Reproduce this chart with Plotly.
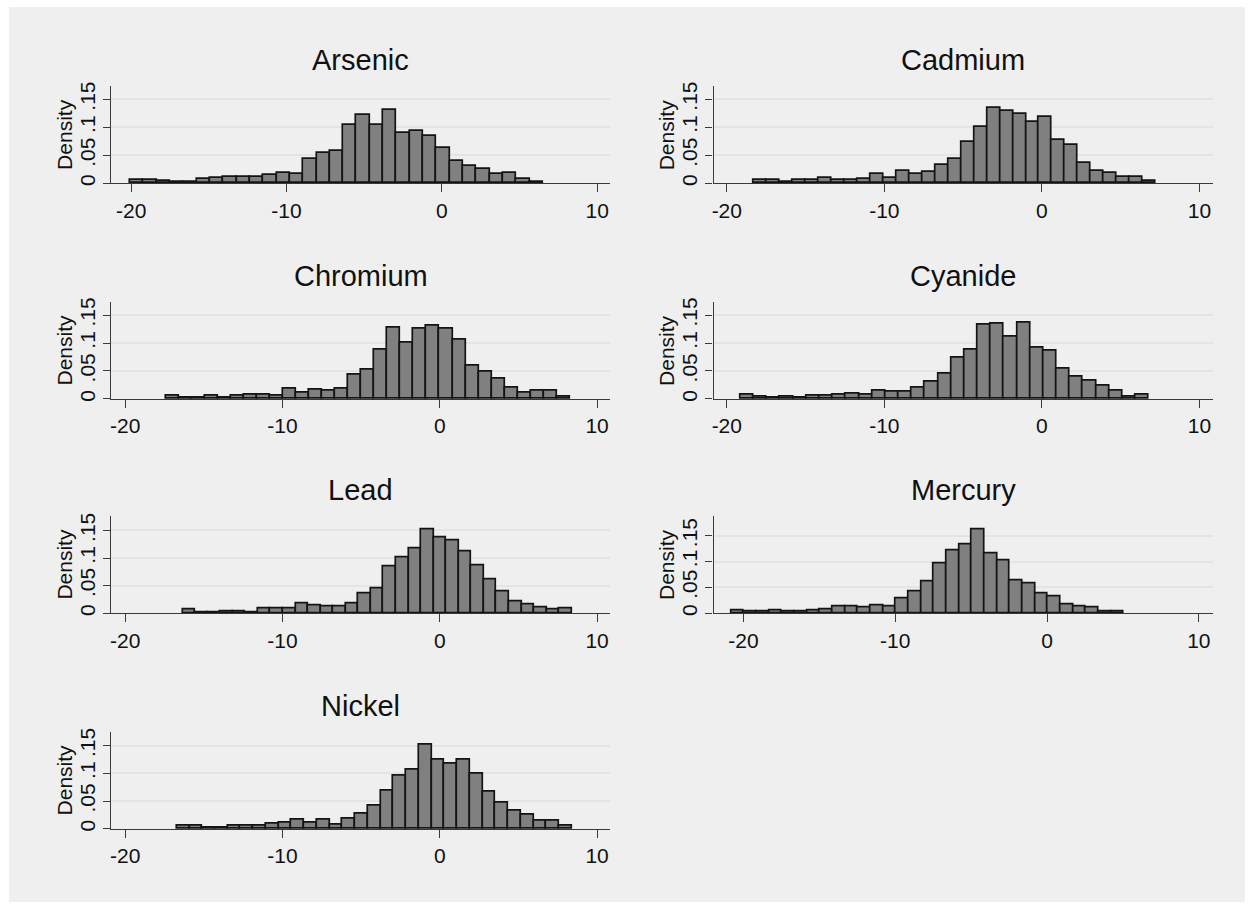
import plotly.graph_objects as go

W, H = 1252, 908

# ---------------- data (histogram densities, 31 bins each) ----------------
panels = ["Arsenic", "Cadmium", "Chromium", "Cyanide", "Lead", "Mercury", "Nickel"]

arsenic_bin_start, arsenic_bin_width = -20.06, 0.857
arsenic_density = [0.006, 0.006, 0.004, 0.002, 0.003, 0.008, 0.009, 0.011, 0.011, 0.012,
                   0.015, 0.018, 0.016, 0.043, 0.054, 0.058, 0.104, 0.121, 0.104, 0.130,
                   0.090, 0.094, 0.084, 0.062, 0.040, 0.031, 0.025, 0.016, 0.018, 0.008,
                   0.002]

cadmium_bin_start, cadmium_bin_width = -18.29, 0.823
cadmium_density = [0.006, 0.006, 0.003, 0.006, 0.005, 0.010, 0.005, 0.006, 0.008, 0.016,
                   0.009, 0.022, 0.016, 0.020, 0.032, 0.043, 0.073, 0.101, 0.134, 0.129,
                   0.124, 0.110, 0.118, 0.077, 0.069, 0.037, 0.021, 0.019, 0.012, 0.011,
                   0.004]

chromium_bin_start, chromium_bin_width = -17.42, 0.829
chromium_density = [0.006, 0.002, 0.002, 0.006, 0.002, 0.005, 0.007, 0.007, 0.006, 0.018,
                    0.012, 0.017, 0.015, 0.018, 0.043, 0.052, 0.089, 0.128, 0.101, 0.126,
                    0.131, 0.125, 0.106, 0.060, 0.048, 0.036, 0.020, 0.011, 0.015, 0.014,
                    0.004]

cyanide_bin_start, cyanide_bin_width = -19.13, 0.836
cyanide_density = [0.008, 0.004, 0.002, 0.004, 0.002, 0.005, 0.006, 0.007, 0.009, 0.007,
                   0.015, 0.013, 0.013, 0.020, 0.030, 0.046, 0.074, 0.089, 0.132, 0.134,
                   0.111, 0.136, 0.091, 0.086, 0.055, 0.039, 0.033, 0.024, 0.014, 0.004,
                   0.007]

lead_bin_start, lead_bin_width = -16.34, 0.798
lead_density = [0.007, 0.002, 0.002, 0.004, 0.004, 0.002, 0.008, 0.009, 0.009, 0.018,
                0.014, 0.012, 0.012, 0.017, 0.036, 0.045, 0.085, 0.101, 0.117, 0.152,
                0.137, 0.131, 0.111, 0.087, 0.062, 0.039, 0.022, 0.015, 0.011, 0.007,
                0.009]

mercury_bin_start, mercury_bin_width = -20.80, 0.834
mercury_density = [0.005, 0.003, 0.004, 0.005, 0.004, 0.004, 0.006, 0.008, 0.013, 0.014,
                   0.011, 0.015, 0.014, 0.029, 0.043, 0.062, 0.097, 0.121, 0.132, 0.162,
                   0.116, 0.102, 0.064, 0.058, 0.038, 0.032, 0.017, 0.014, 0.011, 0.003,
                   0.003]

nickel_bin_start, nickel_bin_width = -16.71, 0.810
nickel_density = [0.005, 0.005, 0.003, 0.003, 0.006, 0.006, 0.005, 0.009, 0.011, 0.017,
                  0.011, 0.017, 0.008, 0.018, 0.028, 0.041, 0.069, 0.096, 0.107, 0.152,
                  0.125, 0.117, 0.124, 0.099, 0.067, 0.048, 0.033, 0.026, 0.015, 0.014,
                  0.006]

x_tick_values = [-20, -10, 0, 10]
x_tick_labels = ["-20", "-10", "0", "10"]
y_tick_values = [0, 0.05, 0.10, 0.15]
y_tick_labels = ["0", ".05", ".1", ".15"]

series = {
    "Arsenic": (arsenic_bin_start, arsenic_bin_width, arsenic_density),
    "Cadmium": (cadmium_bin_start, cadmium_bin_width, cadmium_density),
    "Chromium": (chromium_bin_start, chromium_bin_width, chromium_density),
    "Cyanide": (cyanide_bin_start, cyanide_bin_width, cyanide_density),
    "Lead": (lead_bin_start, lead_bin_width, lead_density),
    "Mercury": (mercury_bin_start, mercury_bin_width, mercury_density),
    "Nickel": (nickel_bin_start, nickel_bin_width, nickel_density),
}

# ---------------- layout geometry (pixels) ----------------
col_x = [(109.3, 609.3), (712.7, 1212.7)]
row_y = [(82.7, 180.7), (300.0, 398.0), (515.5, 614.0), (733.3, 831.3)]
x_ranges = {
    "Arsenic": [-21.29, 10.84], "Cadmium": [-20.84, 10.84],
    "Chromium": [-20.89, 10.84], "Cyanide": [-20.84, 10.84],
    "Lead": [-20.89, 10.84], "Mercury": [-21.97, 10.92],
    "Nickel": [-20.89, 10.84],
}
y_ranges = {
    "Arsenic": 0.1735, "Cadmium": 0.1735, "Chromium": 0.174, "Cyanide": 0.174,
    "Lead": 0.177, "Mercury": 0.189, "Nickel": 0.175,
}

FONT = "Liberation Sans, Arial, sans-serif"
BG = "#efefef"
AXIS = "#3a3a3a"
TICK_FONT = 21

fig = go.Figure()
annotations = []
layout_axes = {}

for i, name in enumerate(panels):
    r, c = divmod(i, 2)
    x0, x1 = col_x[c]
    top, bot = row_y[r]
    start, width, dens = series[name]
    centers = [start + width * (k + 0.5) for k in range(len(dens))]
    ax = "" if i == 0 else str(i + 1)
    fig.add_trace(go.Bar(
        x=centers, y=dens, width=width,
        marker=dict(color="#808080", line=dict(color="#141414", width=1.7)),
        xaxis="x" + ax, yaxis="y" + ax, showlegend=False, hoverinfo="x+y",
    ))
    layout_axes["xaxis" + ax] = dict(
        domain=[x0 / W, x1 / W], anchor="y" + ax, range=x_ranges[name],
        tickmode="array", tickvals=x_tick_values, ticktext=x_tick_labels,
        showgrid=False, zeroline=False, showline=True, linecolor=AXIS, linewidth=1.3,
        ticks="outside", ticklen=8, tickcolor=AXIS, tickwidth=1.3,
        tickfont=dict(family=FONT, size=TICK_FONT, color="#111111"), fixedrange=True,
    )
    layout_axes["yaxis" + ax] = dict(
        domain=[1 - bot / H, 1 - top / H], anchor="x" + ax, range=[0, y_ranges[name]],
        tickmode="array", tickvals=y_tick_values, ticktext=y_tick_labels, tickangle=-90,
        showgrid=True, gridcolor="#e4e4e4", gridwidth=1.5, zeroline=False,
        showline=True, linecolor=AXIS, linewidth=1.3,
        ticks="outside", ticklen=7, tickcolor=AXIS, tickwidth=1.3,
        tickfont=dict(family=FONT, size=TICK_FONT, color="#111111"), fixedrange=True,
    )
    annotations.append(dict(
        text=name, x=(x0 + x1) / 2 / W, y=1 - (top - 8) / H, xref="paper", yref="paper",
        xanchor="center", yanchor="bottom", showarrow=False,
        font=dict(family=FONT, size=29, color="#111111"),
    ))
    annotations.append(dict(
        text="Density", x=(x0 - 47) / W, y=1 - (top + bot) / 2 / H, xref="paper", yref="paper",
        xanchor="center", yanchor="middle", textangle=-90, showarrow=False,
        font=dict(family=FONT, size=21, color="#111111"),
    ))

fig.update_layout(
    width=W, height=H, margin=dict(l=0, r=0, t=0, b=0),
    paper_bgcolor="white", plot_bgcolor="white",
    bargap=0, annotations=annotations,
    shapes=[dict(type="rect", xref="paper", yref="paper", x0=7 / W, x1=1245 / W,
                 y0=1 - 905 / H, y1=1 - 3 / H, fillcolor=BG, line=dict(width=0),
                 layer="below")],
    **layout_axes,
)

fig.write_html("out.html")
